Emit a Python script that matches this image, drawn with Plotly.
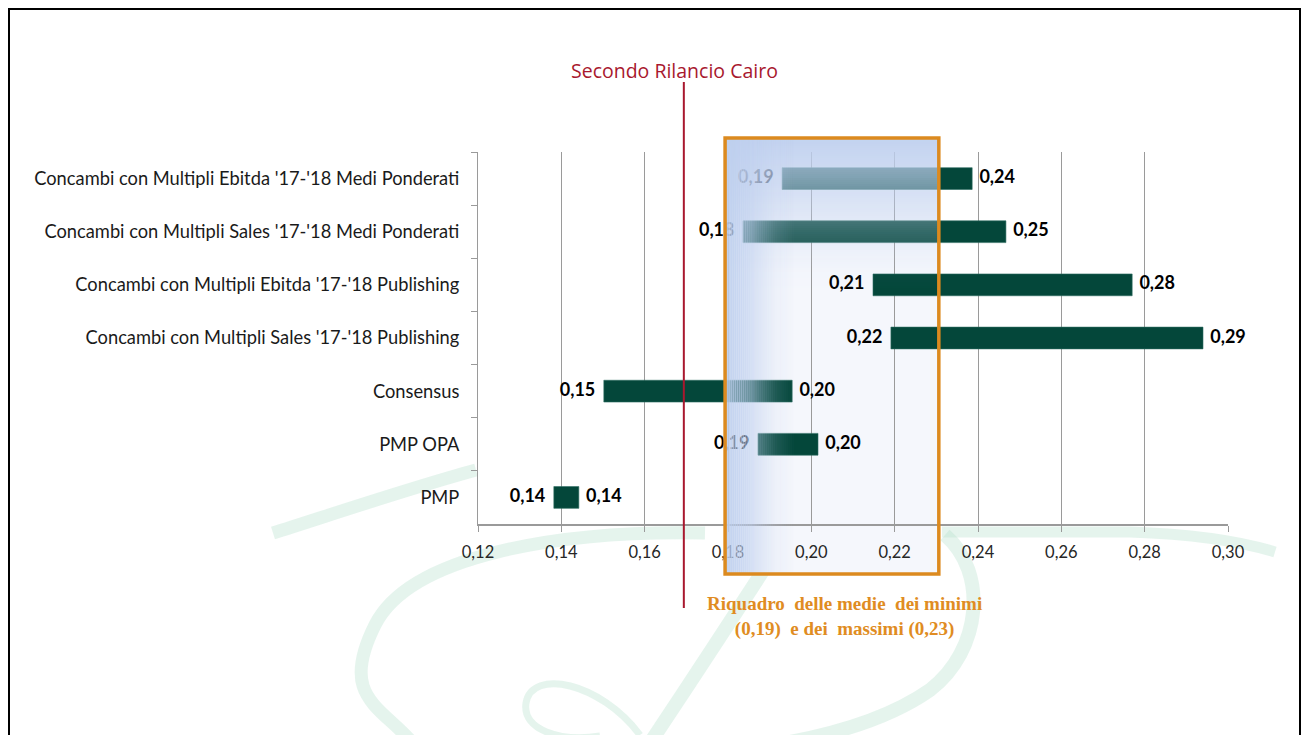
import numpy as np
import plotly.graph_objects as go

# ---------------- data ----------------
categories = [
    "Concambi con Multipli Ebitda '17-'18 Medi Ponderati",
    "Concambi con Multipli Sales '17-'18 Medi Ponderati",
    "Concambi con Multipli Ebitda '17-'18 Publishing",
    "Concambi con Multipli Sales '17-'18 Publishing",
    "Consensus",
    "PMP OPA",
    "PMP",
]
range_min = [0.193, 0.1836, 0.2148, 0.2191, 0.1502, 0.1872, 0.1382]
range_max = [0.2386, 0.2467, 0.2770, 0.2940, 0.1954, 0.2016, 0.1442]

rilancio_cairo = 0.1694
box_min = 0.1793
box_max = 0.2306
x_ticks = [0.12, 0.14, 0.16, 0.18, 0.20, 0.22, 0.24, 0.26, 0.28, 0.30]

W, H = 1309, 735
BAR = "#04473a"

def fmt(v):
    return f"{v:.2f}".replace(".", ",")

def py(p):  # pixel y -> paper
    return 1 - p / H

def px(p):  # pixel x -> paper
    return p / W

fig = go.Figure()

fig.add_trace(go.Bar(
    y=categories,
    x=[b - a for a, b in zip(range_min, range_max)],
    base=range_min,
    orientation="h",
    marker=dict(color=BAR, line=dict(width=0.6, color="#2e6d62")),
    width=0.41,
    showlegend=False,
    hoverinfo="skip",
))

lab_font = dict(family="Lato", size=18, color="#000000")
fig.add_trace(go.Scatter(
    x=range_min, y=categories, mode="markers+text",
    marker=dict(size=12, opacity=0),
    text=[f"<b>{fmt(v)}</b>" for v in range_min],
    textposition="middle left", textfont=lab_font, cliponaxis=False,
    showlegend=False, hoverinfo="skip",
))
fig.add_trace(go.Scatter(
    x=range_max, y=categories, mode="markers+text",
    marker=dict(size=10, opacity=0),
    text=[f"<b>{fmt(v)}</b>" for v in range_max],
    textposition="middle right", textfont=lab_font, cliponaxis=False,
    showlegend=False, hoverinfo="skip",
))

shapes = []

# ---- watermark swirl (decorative) ----
wm = "rgba(182,224,204,0.36)"
def pts(lst):
    return [f"{px(a)},{py(b)}" for a, b in lst]
wm_paths = [
    ("M {} C {} {} {}".format(*pts([(273, 533), (330, 515), (410, 488), (476, 470)])), 13),
    ("M {} C {} {} {} S {} {}".format(*pts([(705, 533), (560, 530), (410, 555), (375, 625), (378, 705), (410, 740)])), 13),
    ("M {} Q {} {}".format(*pts([(770, 560), (715, 645), (652, 740)])), 14),
    ("M {} C {} {} {} C {} {} {}".format(*pts([(640, 735), (600, 682), (532, 668), (526, 703), (522, 730), (560, 742), (600, 736)])), 7),
    ("M {} L {} Q {} {}".format(*pts([(942, 532), (1130, 532), (1220, 535), (1275, 552)])), 11),
    ("M {} C {} {} {} Q {} {}".format(*pts([(945, 535), (988, 572), (982, 650), (930, 690), (880, 725), (790, 742)])), 14),
]
for d, w in wm_paths:
    shapes.append(dict(type="path", path=d, xref="paper", yref="paper",
                       line=dict(color=wm, width=w), layer="below"))

box_top, box_bot = 138, 574

# pale fill of the box
shapes.append(dict(type="rect", xref="x", yref="paper", x0=box_min, x1=box_max,
                   y0=py(box_bot), y1=py(box_top), fillcolor="#f5f7fc",
                   line=dict(width=0), layer="below"))

# top gradient (vertical fade)
ys = np.arange(box_top, 292, 2)
ty = [138, 179, 232, 252, 272, 292]
ta = [0.92, 0.66, 0.26, 0.14, 0.03, 0.0]
for y0 in ys:
    a = float(np.interp(y0 + 1, ty, ta))
    if a <= 0.005:
        continue
    shapes.append(dict(type="rect", xref="x", yref="paper", x0=box_min, x1=box_max,
                       y0=py(y0 + 2), y1=py(y0),
                       fillcolor=f"rgba(190,207,238,{a:.3f})", line=dict(width=0),
                       layer="above"))

# left gradient (horizontal fade)
span = box_max - box_min
step = 0.009
fr = np.arange(0, 0.33, step)
tf = [0.0, 0.07, 0.155, 0.235, 0.33]
tfa = [0.93, 0.8, 0.45, 0.15, 0.0]
for f0 in fr:
    a = float(np.interp(f0 + step / 2, tf, tfa))
    if a <= 0.005:
        continue
    shapes.append(dict(type="rect", xref="x", yref="paper",
                       x0=box_min + f0 * span, x1=box_min + (f0 + step) * span,
                       y0=py(box_bot), y1=py(box_top),
                       fillcolor=f"rgba(190,207,238,{a:.3f})", line=dict(width=0),
                       layer="above"))

# orange box outline
shapes.append(dict(type="rect", xref="x", yref="paper", x0=box_min, x1=box_max,
                   y0=py(box_bot), y1=py(box_top), fillcolor="rgba(0,0,0,0)",
                   line=dict(color="#dc8a1f", width=3.5), layer="above"))

# red line
shapes.append(dict(type="line", xref="x", yref="paper", x0=rilancio_cairo, x1=rilancio_cairo,
                   y0=py(608), y1=py(82), line=dict(color="#a8182e", width=2), layer="above"))

# outer frame
shapes.append(dict(type="rect", xref="paper", yref="paper", x0=px(9), x1=px(1300),
                   y0=-0.05, y1=py(9), line=dict(color="#000000", width=2),
                   fillcolor="rgba(0,0,0,0)", layer="above"))

annotations = [
    dict(x=rilancio_cairo, y=py(70), xref="x", yref="paper", text="Secondo Rilancio Cairo",
         showarrow=False, xanchor="center", yanchor="middle", xshift=-9,
         font=dict(family="Open Sans", size=19.5, color="#a8182e")),
    dict(x=(box_min + box_max) / 2, y=py(591), xref="x", yref="paper",
         text="<b>Riquadro  delle medie  dei minimi<br>(0,19)  e dei  massimi (0,23)</b>",
         showarrow=False, xanchor="center", yanchor="top", xshift=13, align="center",
         font=dict(family="Liberation Serif", size=19, color="#e08c22")),
]

fig.update_layout(
    width=W, height=H,
    autosize=False,
    margin=dict(l=0, r=0, t=0, b=0, pad=0, autoexpand=False),
    paper_bgcolor="white", plot_bgcolor="white",
    separators=",.",
    bargap=0.59,
    showlegend=False,
    shapes=shapes,
    annotations=annotations,
    xaxis=dict(
        domain=[px(478), px(1228)], range=[0.12, 0.30],
        tickvals=x_ticks, tickformat=".2f",
        showgrid=True, gridcolor="#9a9a9a", gridwidth=1,
        showline=True, linecolor="#9a9a9a", linewidth=1.5,
        ticks="outside", ticklen=6, tickcolor="#9a9a9a",
        ticklabelstandoff=6,
        tickfont=dict(family="Lato", size=16.5, color="#262626"),
        zeroline=False, fixedrange=True, automargin=False,
    ),
    yaxis=dict(
        domain=[py(524), py(152)],
        categoryorder="array", categoryarray=categories, autorange="reversed",
        showline=True, linecolor="#9a9a9a", linewidth=1,
        ticks="outside", ticklen=6, tickcolor="#9a9a9a", tickson="boundaries",
        ticklabelstandoff=14,
        tickfont=dict(family="Lato", size=18.3, color="#1a1a1a"),
        showgrid=False, zeroline=False, fixedrange=True, automargin=False,
    ),
)

fig.write_html(
    "out.html",
    config={"displayModeBar": False, "responsive": False},
    post_script="document.body.style.margin='0';document.body.style.overflow='hidden';",
)
